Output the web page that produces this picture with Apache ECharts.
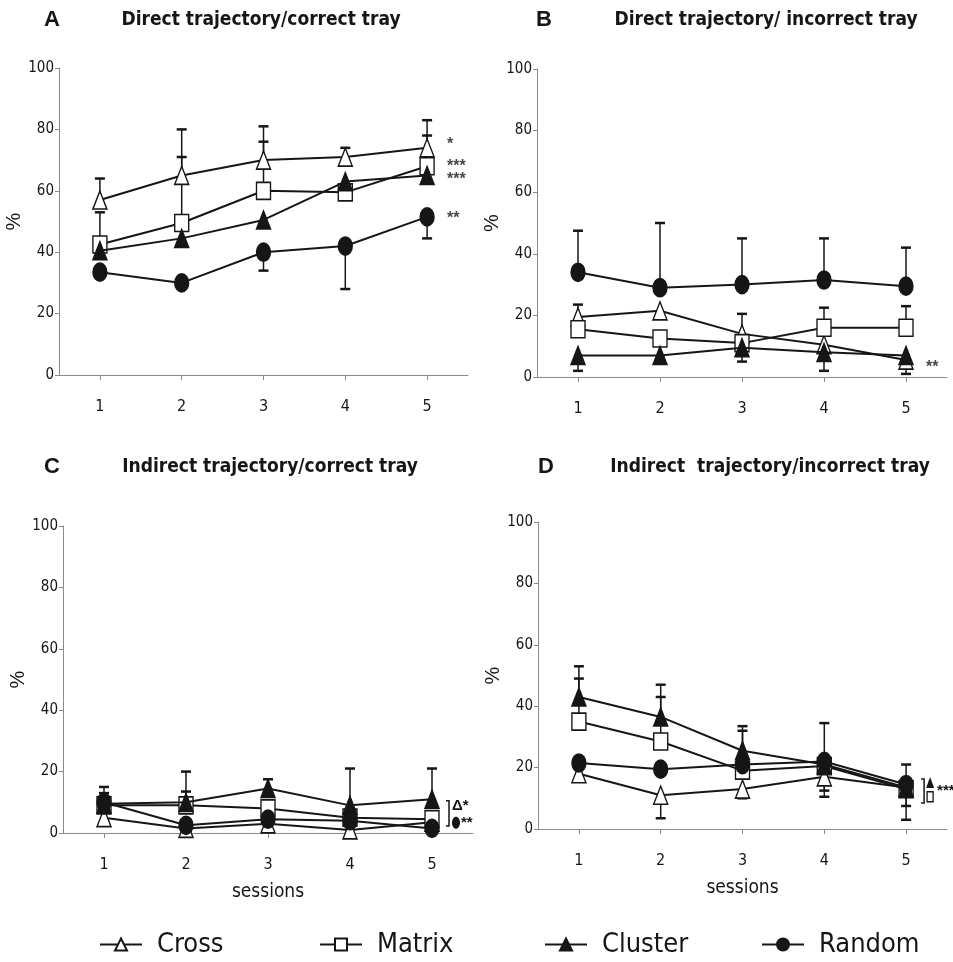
<!DOCTYPE html>
<html>
<head>
<meta charset="utf-8">
<script src="https://cdn.jsdelivr.net/npm/echarts@6/dist/echarts.min.js"></script>
<style>html,body{margin:0;padding:0;background:#fff}#c{width:953px;height:962px}</style>
</head>
<body>
<div id="c"></div>
<script>
// ---------- data ----------
const sessions = ['1', '2', '3', '4', '5'];
const groups = ['Cross', 'Matrix', 'Cluster', 'Random'];
const panelLetters = ['A', 'B', 'C', 'D'];
const panelTitles = ['Direct trajectory/correct tray', 'Direct trajectory/ incorrect tray',
                     'Indirect trajectory/correct tray', 'Indirect  trajectory/incorrect tray'];

// Panel A: direct trajectory / correct tray
const crossA   = [57, 65, 70, 71, 74];
const matrixA  = [42.5, 49.5, 60, 59.5, 68];
const clusterA = [40.5, 44.5, 50.5, 63, 65];
const randomA  = [33.5, 30, 40, 42, 51.5];
const crossErrA   = [64, 80, 81, 74, 83];
const matrixErrA  = [53, 71, 76, null, 78];
const clusterErrA = [null, null, null, null, null];
const randomErrA  = [null, null, 34, 28, 44.5];

// Panel B: direct trajectory / incorrect tray
const crossB   = [19.5, 21.5, 14, 10.5, 5.5];
const matrixB  = [15.5, 12.5, 11, 16, 16];
const clusterB = [7, 7, 9.5, 8, 7];
const randomB  = [34, 29, 30, 31.5, 29.5];
const crossErrB   = [null, null, 20.5, null, null];
const matrixErrB  = [23.5, null, null, 22.5, 23];
const clusterErrB = [2, null, 5, 2, 1];
const randomErrB  = [47.5, 50, 45, 45, 42];

// Panel C: indirect trajectory / correct tray
const crossC   = [5, 1.5, 3, 1, 3.5];
const matrixC  = [9, 9, 8, 5, 4.5];
const clusterC = [9.5, 10, 14.5, 9, 11];
const randomC  = [10, 2.5, 4.5, 4, 1.5];
const crossErrC   = [null, null, null, null, null];
const matrixErrC  = [13, 13.5, null, null, null];
const clusterErrC = [15, 20, 17.5, 21, 21];
const randomErrC  = [null, null, null, null, null];

// Panel D: indirect trajectory / incorrect tray
const crossD   = [18, 11, 13, 17, 13.5];
const matrixD  = [35, 28.5, 19, 20.5, 13];
const clusterD = [43, 36.5, 25.5, 21, 13.5];
const randomD  = [21.5, 19.5, 21, 22, 14.5];
const crossErrD   = [15.5, 3.5, 10, 10.5, 3];
const matrixErrD  = [49, 43, 32, 12.5, 7.5];
const clusterErrD = [53, 47, 33.5, null, 21];
const randomErrD  = [null, null, null, 34.5, null];

// significance annotations at session 5
const annotA_text = ['*', '***', '***', '**'];
const annotA_y    = [75, 68, 63.5, 51];
const annotB_text = ['**'];
const annotB_y    = [3];

const yTicksMax = 100, yTickStep = 20;

// ---------- build ----------
const panelValues = [
  [crossA, matrixA, clusterA, randomA],
  [crossB, matrixB, clusterB, randomB],
  [crossC, matrixC, clusterC, randomC],
  [crossD, matrixD, clusterD, randomD]
];
const panelErrors = [
  [crossErrA, matrixErrA, clusterErrA, randomErrA],
  [crossErrB, matrixErrB, clusterErrB, randomErrB],
  [crossErrC, matrixErrC, clusterErrC, randomErrC],
  [crossErrD, matrixErrD, clusterErrD, randomErrD]
];

const NARROW = "'Liberation Sans Narrow','DejaVu Sans Condensed','Liberation Sans',sans-serif";
const SANS = "'Liberation Sans',Arial,sans-serif";
const INK = '#161616';

const gridBoxes = [
  {left: 59, top: 68, width: 409, height: 307},
  {left: 537, top: 69, width: 410, height: 308},
  {left: 63, top: 526, width: 410, height: 307},
  {left: 538, top: 522, width: 409, height: 307}
];

const styleOf = [
  {symbol: 'triangle', symbolSize: [14, 18], fill: '#fff'},
  {symbol: 'rect', symbolSize: [14, 17], fill: '#fff'},
  {symbol: 'triangle', symbolSize: [14, 18], fill: INK},
  {symbol: 'circle', symbolSize: [14, 18], fill: INK}
];

function renderErr(params, api) {
  const x = api.value(0), v = api.value(1), e = api.value(2);
  const p1 = api.coord([x, v]);
  const p2 = api.coord([x, e]);
  const cap = 5;
  return {
    type: 'group',
    children: [
      {type: 'line', shape: {x1: p1[0], y1: p1[1], x2: p2[0], y2: p2[1]}, style: {stroke: INK, lineWidth: 1.5}},
      {type: 'line', shape: {x1: p2[0] - cap, y1: p2[1], x2: p2[0] + cap, y2: p2[1]}, style: {stroke: INK, lineWidth: 2.5}}
    ]
  };
}

const grids = [], xAxes = [], yAxes = [], series = [];
gridBoxes.forEach((g, p) => {
  grids.push(Object.assign({containLabel: false}, g));
  xAxes.push({
    type: 'category', gridIndex: p, data: sessions, boundaryGap: true,
    name: p >= 2 ? 'sessions' : '', nameLocation: 'middle', nameGap: 50,
    nameTextStyle: {fontFamily: NARROW, fontSize: 19, color: INK},
    axisLine: {lineStyle: {color: '#8a8a8a', width: 1}},
    axisTick: {show: true, alignWithLabel: true, length: 5, lineStyle: {color: '#8a8a8a'}},
    axisLabel: {fontFamily: NARROW, fontSize: 16, color: INK, margin: 24},
    splitLine: {show: false}
  });
  yAxes.push({
    type: 'value', gridIndex: p, min: 0, max: yTicksMax, interval: yTickStep,
    name: '%', nameLocation: 'middle', nameGap: 28, nameRotate: 90,
    nameTextStyle: {fontFamily: SANS, fontSize: 20, color: INK},
    axisLine: {show: true, lineStyle: {color: '#8a8a8a', width: 1}},
    axisTick: {show: true, length: 4, lineStyle: {color: '#8a8a8a'}},
    axisLabel: {fontFamily: NARROW, fontSize: 15, color: INK, margin: 5},
    splitLine: {show: false}
  });
  groups.forEach((name, k) => {
    const errs = panelErrors[p][k];
    const vals = panelValues[p][k];
    const errData = [];
    errs.forEach((e, i) => { if (e !== null) errData.push([i, vals[i], e]); });
    series.push({
      type: 'custom', name: name + ' err', xAxisIndex: p, yAxisIndex: p,
      renderItem: renderErr, data: errData, encode: {x: 0, y: [1, 2]}, z: 1, silent: true
    });
  });
  groups.forEach((name, k) => {
    const st = styleOf[k];
    series.push({
      type: 'line', name: name, xAxisIndex: p, yAxisIndex: p,
      data: panelValues[p][k], symbol: st.symbol, symbolSize: st.symbolSize, showSymbol: true,
      lineStyle: {color: INK, width: 2},
      itemStyle: {color: st.fill, borderColor: INK, borderWidth: 1.5},
      z: 3 + k, animation: false
    });
  });
});

function annotSeries(p, texts, ys) {
  return {
    type: 'scatter', xAxisIndex: p, yAxisIndex: p, symbolSize: 0, silent: true,
    data: ys.map((y, i) => ({value: [4, y], name: texts[i]})),
    label: {show: true, position: 'right', distance: 20, formatter: d => d.name,
            fontFamily: SANS, fontSize: 16, fontWeight: 'bold', color: INK}
  };
}
series.push(annotSeries(0, annotA_text, annotA_y));
series.push(annotSeries(1, annotB_text, annotB_y));

const legends = groups.map((name, k) => ({
  data: [name], left: [94, 314, 539, 756][k], top: 926,
  itemWidth: 42, itemHeight: 15, itemGap: 0, selectedMode: false,
  textStyle: {fontFamily: NARROW, fontSize: 27, color: INK, padding: [0, 0, 0, 10]}
}));

const titleGraphics = [];
const titleSpots = [[52, 261, 20], [544, 766, 20], [52, 270, 467], [546, 770, 467]];
titleSpots.forEach((t, p) => {
  titleGraphics.push({type: 'text', x: t[0], y: t[2],
    style: {text: panelLetters[p], fontFamily: SANS, fontWeight: 'bold', fontSize: 22, fill: INK,
            align: 'center', verticalAlign: 'middle'}});
  titleGraphics.push({type: 'text', x: t[1], y: t[2],
    style: {text: panelTitles[p], fontFamily: NARROW, fontWeight: 'bold', fontSize: 19, fill: INK,
            align: 'center', verticalAlign: 'middle'}});
});

const chart = echarts.init(document.getElementById('c'), null, {renderer: 'canvas'});
chart.setOption({
  animation: false,
  backgroundColor: '#fff',
  grid: grids, xAxis: xAxes, yAxis: yAxes, series: series,
  legend: legends,
  graphic: titleGraphics
});

// bracket annotations for panels C and D, located through the axes
function px(p, v) { return chart.convertToPixel({gridIndex: p}, [4, v]); }
const extra = [];
(function () {
  const top = px(2, 10.5), bot = px(2, 2.3);
  const bx = top[0] + 14;
  extra.push({type: 'polyline', shape: {points: [[bx, top[1]], [bx + 3, top[1]], [bx + 3, bot[1]], [bx, bot[1]]]},
              style: {stroke: INK, lineWidth: 1.5, fill: null}});
  extra.push({type: 'text', x: bx + 6, y: px(2, 9)[1], style: {text: 'Δ*', fontFamily: SANS, fontSize: 15, fontWeight: 'bold', fill: INK, verticalAlign: 'middle'}});
  const cy = px(2, 3.3)[1];
  extra.push({type: 'ellipse', shape: {cx: bx + 10, cy: cy, rx: 4, ry: 6}, style: {fill: INK}});
  extra.push({type: 'text', x: bx + 15, y: cy, style: {text: '**', fontFamily: SANS, fontSize: 15, fontWeight: 'bold', fill: INK, verticalAlign: 'middle'}});
})();
(function () {
  const top = px(3, 16.3), bot = px(3, 8.5);
  const bx = top[0] + 15;
  extra.push({type: 'polyline', shape: {points: [[bx, top[1]], [bx + 3, top[1]], [bx + 3, bot[1]], [bx, bot[1]]]},
              style: {stroke: INK, lineWidth: 1.5, fill: null}});
  const ty = px(3, 15)[1];
  extra.push({type: 'polygon', shape: {points: [[bx + 9, ty - 6], [bx + 5, ty + 5], [bx + 13, ty + 5]]}, style: {fill: INK}});
  const sy = px(3, 10.5)[1];
  extra.push({type: 'rect', shape: {x: bx + 6, y: sy - 5, width: 6, height: 10}, style: {fill: '#fff', stroke: INK, lineWidth: 1.3}});
  extra.push({type: 'text', x: bx + 16, y: px(3, 12.5)[1], style: {text: '***', fontFamily: SANS, fontSize: 15, fontWeight: 'bold', fill: INK, verticalAlign: 'middle'}});
})();
chart.setOption({graphic: titleGraphics.concat(extra)});
</script>
</body>
</html>
